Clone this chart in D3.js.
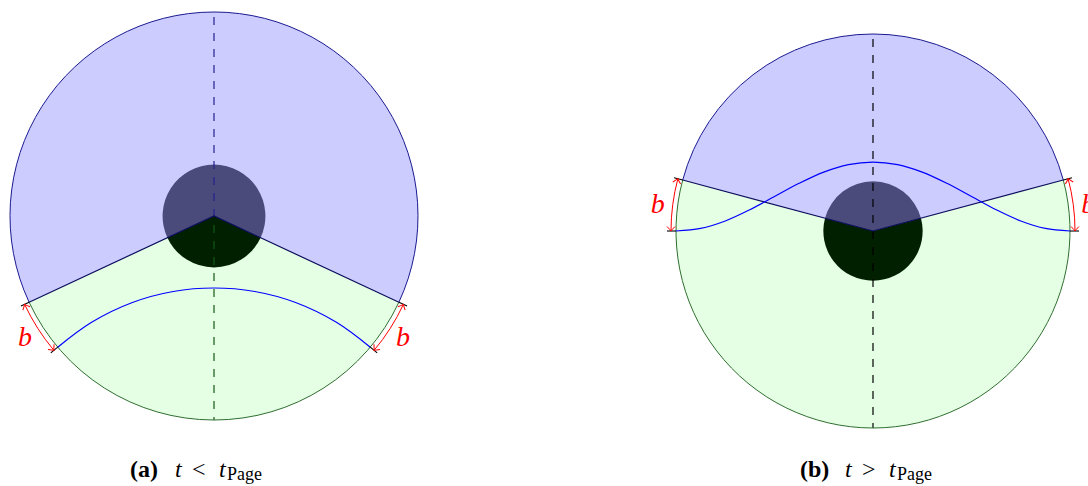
<!DOCTYPE html>
<html>
<head>
<meta charset="utf-8">
<script src="https://cdn.jsdelivr.net/npm/d3@7"></script>
<style>
  body { margin: 0; background: #fff; }
  svg { display: block; }
</style>
</head>
<body>
<div id="chart"></div>
<script>
// panel values (unit circle coords, y up; angles in degrees above horizontal)
var panelIds = ["a", "b"];
var splitAngles = [-25, 15];      // where the blue and green sectors meet the rim
var meetAngles = [-40, 0];        // where the blue curve meets the rim
var coreRadii = [0.252, 0.252];   // dark inner disk
var curveA = [[-0.766, -0.643], [-0.6, -0.521], [-0.4, -0.424], [-0.2, -0.370], [0, -0.353],
              [0.2, -0.370], [0.4, -0.424], [0.6, -0.521], [0.766, -0.643]];
var curveB = [[-1, 0], [-0.875, 0.013], [-0.75, 0.051], [-0.625, 0.108], [-0.5, 0.175],
              [-0.375, 0.242], [-0.25, 0.299], [-0.125, 0.337], [0, 0.35],
              [0.125, 0.337], [0.25, 0.299], [0.375, 0.242], [0.5, 0.175],
              [0.625, 0.108], [0.75, 0.051], [0.875, 0.013], [1, 0]];
var curves = [curveA, curveB];
var captionTags = ["(a)", "(b)"];
var captionRels = ["<", ">"];

var width = 1088, height = 486;
var layout = [
  { cx: 214, cy: 216, R: 204, capX: 130, dashTop: "#22228e", dashBottom: "#145814" },
  { cx: 873, cy: 231, R: 197, capX: 800, dashTop: "#000", dashBottom: "#000" }
];

var svg = d3.select("#chart").append("svg")
  .attr("width", width)
  .attr("height", height);

// "to" style arrow tip
svg.append("defs").append("marker")
  .attr("id", "tip")
  .attr("markerUnits", "userSpaceOnUse")
  .attr("viewBox", "-6 -6 8 12")
  .attr("markerWidth", 8)
  .attr("markerHeight", 12)
  .attr("refX", 0)
  .attr("refY", 0)
  .attr("orient", "auto-start-reverse")
  .append("path")
  .attr("d", "M-4.5,-4 Q-1.2,-0.8 0,0 Q-1.2,0.8 -4.5,4")
  .attr("fill", "none")
  .attr("stroke", "#ff0000")
  .attr("stroke-width", 1);

var rad = Math.PI / 180;

panelIds.forEach(function(id, i) {
  var L = layout[i];
  var x = d3.scaleLinear().domain([-1, 1]).range([-L.R, L.R]);
  var y = d3.scaleLinear().domain([-1, 1]).range([L.R, -L.R]);
  var rPx = x(1) - x(0);
  var g = svg.append("g")
    .attr("transform", "translate(" + L.cx + "," + L.cy + ")");

  var phi = splitAngles[i], mu = meetAngles[i];
  var s = (90 - phi) * rad; // d3.arc angle of the right split point

  // sectors
  var sectors = [
    { a0: -s, a1: s, fill: "#ccccff", core: "#4b4b7b" },
    { a0: s, a1: 2 * Math.PI - s, fill: "#e5ffe5", core: "#002000" }
  ];
  g.selectAll(".sector").data(sectors).enter().append("path")
    .attr("class", "sector")
    .attr("d", function(d) {
      return d3.arc().innerRadius(0).outerRadius(rPx).startAngle(d.a0).endAngle(d.a1)();
    })
    .attr("fill", function(d) { return d.fill; });

  // inner disk
  g.selectAll(".core").data(sectors).enter().append("path")
    .attr("class", "core")
    .attr("d", function(d) {
      return d3.arc().innerRadius(0).outerRadius(x(coreRadii[i]) - x(0)).startAngle(d.a0).endAngle(d.a1)();
    })
    .attr("fill", function(d) { return d.core; });

  // vertical dashed axis
  g.append("line")
    .attr("x1", x(0)).attr("x2", x(0))
    .attr("y1", y(1)).attr("y2", y(0))
    .attr("stroke", L.dashTop)
    .attr("stroke-width", 1.2)
    .attr("stroke-dasharray", "8,8")
    .attr("stroke-dashoffset", 11);
  g.append("line")
    .attr("x1", x(0)).attr("x2", x(0))
    .attr("y1", y(0)).attr("y2", y(-1))
    .attr("stroke", L.dashBottom)
    .attr("stroke-width", 1.2)
    .attr("stroke-dasharray", "8,8")
    .attr("stroke-dashoffset", (11 + rPx) % 16);

  // rim outlines (screen angles, y down)
  var tL = Math.PI + phi * rad, tR = -phi * rad;
  var pBlue = d3.path();
  pBlue.arc(0, 0, rPx, tL, 2 * Math.PI + tR, false);
  g.append("path").attr("d", pBlue.toString())
    .attr("fill", "none").attr("stroke", "#1a1a90").attr("stroke-width", 1);
  var pGreen = d3.path();
  pGreen.arc(0, 0, rPx, tR, tL, false);
  g.append("path").attr("d", pGreen.toString())
    .attr("fill", "none").attr("stroke", "#2f6e2f").attr("stroke-width", 1);

  // split lines through the centre
  var cphi = Math.cos(phi * rad), sphi = Math.sin(phi * rad);
  g.append("path")
    .attr("d", d3.line()([[x(-cphi), y(sphi)], [x(0), y(0)], [x(cphi), y(sphi)]]))
    .attr("fill", "none")
    .attr("stroke", "#0c0c5e")
    .attr("stroke-width", 1.2);

  // blue curve
  g.append("path")
    .attr("d", d3.line()
      .x(function(d) { return x(d[0]); })
      .y(function(d) { return y(d[1]); })
      .curve(d3.curveCatmullRom)(curves[i]))
    .attr("fill", "none")
    .attr("stroke", "#0000ff")
    .attr("stroke-width", 1.2);

  // b markers on both sides
  [-1, 1].forEach(function(side) {
    var ends = [phi, mu];
    ends.forEach(function(a) {
      var c = Math.cos(a * rad) * side, sn = Math.sin(a * rad);
      g.append("line")
        .attr("x1", c * rPx).attr("y1", -sn * rPx)
        .attr("x2", c * (rPx + 9)).attr("y2", -sn * (rPx + 9))
        .attr("stroke", "#000")
        .attr("stroke-width", 1.1);
    });
    var t0 = side > 0 ? -phi * rad : Math.PI + phi * rad;
    var t1 = side > 0 ? -mu * rad : Math.PI + mu * rad;
    var pa = d3.path();
    pa.arc(0, 0, rPx + 5, t0, t1, t1 < t0);
    g.append("path").attr("d", pa.toString())
      .attr("fill", "none")
      .attr("stroke", "#ff0000")
      .attr("stroke-width", 1)
      .attr("marker-start", "url(#tip)")
      .attr("marker-end", "url(#tip)");
    var tm = (t0 + t1) / 2, rl = rPx + 20;
    g.append("text")
      .attr("x", Math.cos(tm) * rl)
      .attr("y", Math.sin(tm) * rl + 10)
      .attr("text-anchor", "middle")
      .style("font-family", "'Liberation Serif', serif")
      .style("font-style", "italic")
      .style("font-size", "28px")
      .attr("fill", "#ff0000")
      .text("b");
  });

  // caption
  var cap = svg.append("text")
    .attr("x", L.capX)
    .attr("y", 477)
    .style("font-family", "'Liberation Serif', serif")
    .style("font-size", "24px")
    .attr("fill", "#000");
  cap.append("tspan").style("font-weight", "bold").text(captionTags[i]);
  cap.append("tspan").attr("x", L.capX + 45).style("font-style", "italic").text("t");
  cap.append("tspan").attr("x", L.capX + 62).text(captionRels[i]);
  cap.append("tspan").attr("x", L.capX + 89).style("font-style", "italic").text("t");
  cap.append("tspan").attr("x", L.capX + 97).attr("dy", 3).style("font-size", "18px").text("Page");
});
</script>
</body>
</html>
